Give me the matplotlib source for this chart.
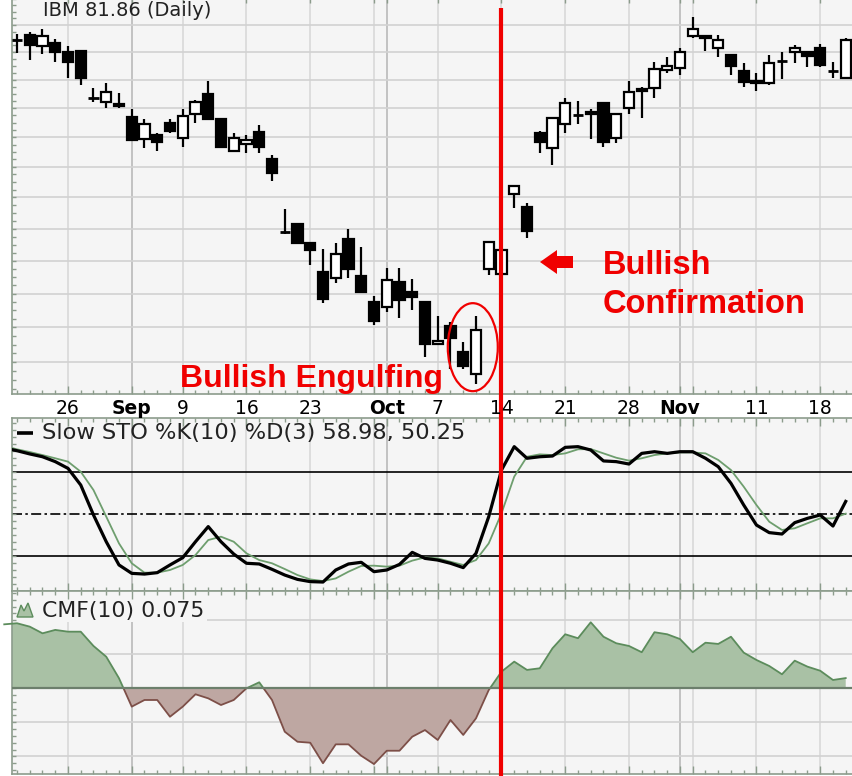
import numpy as np
import matplotlib
matplotlib.use("Agg")
import matplotlib.pyplot as plt
from matplotlib.patches import Rectangle, Ellipse, Polygon
from matplotlib.ticker import FixedLocator, NullLocator, NullFormatter
from matplotlib import transforms

# IBM daily candles, Aug 20 - Nov 20 2002 (trading-day index 0..65)
opens = [90.89, 91.26, 90.45, 90.67, 90.01, 90.08, 86.71, 86.43, 86.29, 85.39,
         83.87, 84.15, 84.97, 83.94, 85.59, 86.99, 85.25, 83.06, 83.53, 84.35,
         82.53, 77.79, 78.29, 77.10, 75.31, 74.95, 77.35, 75.07, 73.50, 73.21,
         74.71, 74.10, 73.50, 71.06, 72.10, 70.60, 69.35, 75.50, 75.19, 80.22,
         79.38, 84.28, 83.26, 84.90, 85.52, 85.73, 86.36, 83.94, 86.01, 87.35,
         87.42, 88.70, 88.85, 91.18, 91.18, 90.30, 89.79, 88.63, 87.91, 87.77,
         89.35, 90.01, 90.01, 90.30, 88.63, 88.13]
highs = [91.33, 91.48, 91.70, 90.96, 90.45, 90.08, 87.42, 87.77, 87.06, 85.94,
         85.25, 84.28, 85.25, 85.94, 86.57, 87.91, 85.25, 84.28, 84.15, 84.83,
         82.79, 79.25, 78.29, 77.10, 76.73, 77.10, 77.98, 76.85, 73.86, 75.56,
         75.56, 74.89, 73.50, 72.68, 72.33, 71.17, 72.68, 77.16, 76.66, 80.74,
         79.64, 84.42, 85.32, 86.71, 86.50, 85.94, 86.36, 85.59, 87.91, 87.49,
         89.28, 89.64, 90.30, 92.60, 91.18, 91.26, 89.79, 89.21, 88.49, 89.79,
         90.01, 90.52, 90.01, 90.59, 89.28, 91.04]
lows = [89.93, 89.42, 89.86, 89.28, 88.13, 87.63, 86.43, 86.01, 86.01, 83.81,
        83.26, 83.06, 84.28, 83.33, 84.97, 85.18, 83.26, 82.99, 82.93, 82.93,
        81.07, 77.66, 77.10, 75.74, 73.44, 74.65, 74.95, 74.04, 72.16, 72.91,
        72.56, 73.03, 70.31, 71.06, 69.58, 69.58, 68.74, 75.13, 75.19, 79.32,
        77.41, 82.93, 82.13, 84.28, 84.90, 83.87, 83.33, 83.60, 85.59, 85.32,
        86.71, 88.49, 88.34, 91.04, 90.08, 89.64, 88.34, 87.49, 87.21, 87.63,
        88.06, 89.21, 88.92, 88.92, 88.13, 88.13]
closes = [90.89, 90.52, 91.18, 90.01, 89.28, 88.13, 86.71, 87.13, 86.15, 83.81,
          84.90, 83.67, 84.42, 85.46, 86.43, 85.25, 83.33, 83.94, 83.81, 83.33,
          81.60, 77.79, 77.10, 76.66, 73.68, 76.42, 75.50, 74.10, 72.39, 74.83,
          73.62, 73.80, 71.06, 71.23, 71.40, 69.75, 71.87, 77.16, 76.66, 80.74,
          77.85, 83.67, 85.32, 86.36, 85.52, 85.59, 83.67, 85.59, 87.13, 87.21,
          88.77, 88.99, 90.01, 91.70, 91.04, 90.89, 88.99, 87.84, 87.77, 89.21,
          89.35, 90.30, 89.72, 89.06, 88.63, 90.89]

# indicators start one session earlier (index -1 .. 65)
sto_k = [97.1, 95.2, 92.9, 90.9, 87.4, 82.6, 70.7, 49.3, 30.2, 13.6, 7.6,
         7.1, 8.1, 13.6, 18.8, 30.2, 41.0, 30.2, 21.4, 14.8, 14.3,
         10.5, 6.4, 3.3, 1.7, 1.4, 10.0, 14.3, 15.5, 8.8, 10.0,
         14.0, 22.6, 18.3, 17.1, 14.8, 11.7, 21.9, 48.1, 81.4, 98.1,
         89.8, 90.9, 91.4, 97.6, 98.1, 95.7, 87.9, 87.4, 85.7, 93.3,
         94.5, 93.3, 94.5, 94.5, 89.8, 83.8, 71.9, 56.4, 42.1, 36.7,
         35.7, 43.8, 46.9, 49.3, 41.4, 58.98]
sto_d = [98.6, 96.2, 94.3, 92.1, 89.8, 87.4, 80.2, 67.1, 48.1, 29.0, 14.8,
         8.1, 8.1, 10.0, 13.6, 20.7, 31.4, 33.8, 30.2, 21.9, 17.1,
         14.8, 10.7, 6.4, 3.3, 2.1, 4.0, 8.8, 12.9, 13.1, 12.4,
         13.1, 16.7, 19.0, 18.3, 15.9, 13.6, 17.1, 29.0, 50.5, 76.7,
         90.9, 92.6, 92.1, 93.3, 96.2, 96.4, 93.3, 90.2, 88.1, 89.8,
         92.1, 93.3, 94.0, 94.0, 93.3, 88.6, 81.4, 69.5, 56.4, 44.5,
         38.6, 39.8, 43.4, 46.9, 46.9, 50.25]
cmf = [0.470, 0.478, 0.453, 0.404, 0.429, 0.416, 0.416, 0.311, 0.232, 0.074, -0.135,
       -0.086, -0.086, -0.209, -0.135, -0.044, -0.074, -0.123, -0.086, 0.000, 0.044,
       -0.086, -0.319, -0.393, -0.400, -0.551, -0.412, -0.412, -0.496, -0.557, -0.459,
       -0.459, -0.356, -0.307, -0.380, -0.233, -0.343, -0.221, -0.013, 0.122, 0.196,
       0.135, 0.147, 0.294, 0.397, 0.368, 0.485, 0.379, 0.331, 0.311, 0.265,
       0.412, 0.397, 0.362, 0.265, 0.335, 0.326, 0.379, 0.262, 0.208, 0.164,
       0.103, 0.203, 0.159, 0.129, 0.061, 0.075]

tick_idx = [4, 9, 13, 18, 23, 29, 33, 38, 43, 48, 52, 58, 63]
tick_lbl = ["26", "Sep", "9", "16", "23", "Oct", "7", "14", "21", "28", "Nov", "11", "18"]
grid_idx = [4, 9, 13, 18, 23, 28, 29, 33, 38, 43, 48, 52, 53, 58, 63]
month_idx = [9, 29, 52]
signal_idx = 38

W, H = 853, 776
BG = "#f5f5f5"
EDGE = "#8c9c8c"
XLIM = (-0.392, 66.12)


def frame(x0, y0, x1, y1):
    return [x0 / W, 1 - y1 / H, (x1 - x0) / W, (y1 - y0) / H]


fig = plt.figure(figsize=(W / 100, H / 100), dpi=100)
fig.patch.set_facecolor("white")

ax_p = fig.add_axes(frame(12, -5, 860, 394))
ax_s = fig.add_axes(frame(12, 418, 860, 591))
ax_c = fig.add_axes(frame(12, 591, 860, 774))

for ax in (ax_p, ax_s, ax_c):
    ax.set_facecolor(BG)
    ax.set_xlim(*XLIM)
    for sp in ax.spines.values():
        sp.set_color(EDGE)
        sp.set_linewidth(1.2)
    for g in grid_idx:
        ax.axvline(g, color="#b4b4b4" if g in month_idx else "#d6d6d6",
                   lw=1.1, zorder=0.5)
    ax.xaxis.set_major_locator(FixedLocator(grid_idx))
    ax.xaxis.set_minor_locator(FixedLocator(range(-1, 67)))
    ax.tick_params(axis="x", which="both", direction="in", top=True, bottom=True,
                   labelbottom=False, color=EDGE, width=1)
    ax.tick_params(axis="x", which="major", length=6)
    ax.tick_params(axis="x", which="minor", length=3)
    ax.tick_params(axis="y", which="both", direction="in", left=True, right=False,
                   labelleft=False, length=3, color=EDGE, width=1)
    ax.yaxis.set_minor_locator(NullLocator())

# price panel (log scale)
ax_p.set_yscale("log")
ax_p.set_ylim(68.21, 94.27)
ax_p.yaxis.set_major_locator(FixedLocator(np.arange(68.5, 94.5, 0.5)))
ax_p.yaxis.set_minor_locator(NullLocator())
ax_p.yaxis.set_major_formatter(NullFormatter())
ax_p.yaxis.set_minor_formatter(NullFormatter())
for p in range(70, 93, 2):
    ax_p.axhline(p, color="#d2d2d2", lw=1.2, zorder=0.5)

bw = 0.8
for i in range(len(opens)):
    o, h, l, c = opens[i], highs[i], lows[i], closes[i]
    ax_p.vlines(i, l, h, color="black", lw=1.6, zorder=2)
    if abs(c - o) < 0.02:
        ax_p.hlines(o, i - bw / 2, i + bw / 2, color="black", lw=2.0, zorder=3)
    else:
        up = c > o
        ax_p.add_patch(Rectangle((i - bw / 2, min(o, c)), bw, abs(c - o),
                                 facecolor="white" if up else "black",
                                 edgecolor="black", lw=1.6, zorder=3))

fig.text(43 / W, 1 - 16 / H, "IBM 81.86 (Daily)", fontsize=14,
         color="#222222", va="baseline", ha="left")

# date labels under the price panel
lbl_tr = transforms.blended_transform_factory(ax_p.transData, fig.transFigure)
for x, t in zip(tick_idx, tick_lbl):
    fig.text(x, 1 - 409 / H, t, transform=lbl_tr, ha="center", va="center",
             fontsize=13.5, color="black",
             fontweight="bold" if x in month_idx else "normal")

# slow stochastic panel
xs = np.arange(-1, 66)
ax_s.set_ylim(-5.0, 118.57)
ax_s.yaxis.set_major_locator(FixedLocator(np.arange(0, 120, 5)))
ax_s.axhline(80, color="black", lw=1.2, zorder=1)
ax_s.axhline(20, color="black", lw=1.2, zorder=1)
ax_s.axhline(50, color="black", lw=1.2, zorder=1, dashes=(6, 2, 1.5, 2))
ax_s.plot(xs, sto_d, color="#6e9e6e", lw=1.3, zorder=3)
ax_s.plot(xs, sto_k, color="black", lw=2.3, zorder=4)
ax_s.plot([(17 - 12) / 848, (33 - 12) / 848], [(591 - 433) / 173] * 2,
          transform=ax_s.transAxes, color="black", lw=2.6, solid_capstyle="butt")
ax_s.text((42 - 12) / 848, (591 - 433) / 173, "Slow STO %K(10) %D(3) 58.98, 50.25",
          transform=ax_s.transAxes, fontsize=16.2, color="#222222",
          va="center", ha="left")

# Chaikin money flow panel
ax_c.set_ylim(-0.630, 0.715)
ax_c.yaxis.set_major_locator(FixedLocator(np.arange(-0.6, 0.75, 0.05)))
for v in (-0.5, -0.25, 0.25, 0.5):
    ax_c.axhline(v, color="#d2d2d2", lw=1.2, zorder=0.5)
ax_c.add_patch(Rectangle((0, (774 - 622) / 183), (207 - 12) / 848, 1,
                         transform=ax_c.transAxes, facecolor=BG,
                         edgecolor="none", zorder=1))
cm = np.array(cmf)
ax_c.fill_between(xs, cm, 0, where=cm >= 0, interpolate=True,
                  color="#a9c1a5", lw=0, zorder=2)
ax_c.fill_between(xs, cm, 0, where=cm <= 0, interpolate=True,
                  color="#bea7a2", lw=0, zorder=2)
pos_line, = ax_c.plot(xs, cm, color="#5c8c5c", lw=1.3, zorder=3)
neg_line, = ax_c.plot(xs, cm, color="#7d4f48", lw=1.3, zorder=3)
pos_line.set_clip_path(Rectangle((-2, 0), 70, 1, transform=ax_c.transData))
neg_line.set_clip_path(Rectangle((-2, -1), 70, 1, transform=ax_c.transData))
ax_c.axhline(0, color="#6c7f6c", lw=1.6, zorder=4)

icon = [(17, 617), (21, 605), (24, 611), (28, 603), (33, 617)]
ax_c.add_patch(Polygon([((x - 12) / 848, (774 - y) / 183) for x, y in icon],
                       closed=True, transform=ax_c.transAxes,
                       facecolor="#a9c1a5", edgecolor="#5c8c5c", lw=1, zorder=5))
ax_c.text((42 - 12) / 848, (774 - 610.5) / 183, "CMF(10) 0.075",
          transform=ax_c.transAxes, fontsize=15.8, color="#222222",
          va="center", ha="left", zorder=5)

# annotations
red = "#f00000"
ring = Ellipse((0, 0), 0.50, 0.88, fill=False, edgecolor=red, lw=1.6,
               transform=fig.dpi_scale_trans +
               transforms.ScaledTranslation(35.75, 70.85, ax_p.transData),
               zorder=6, clip_on=False)
ax_p.add_patch(ring)

fig.text(180 / W, 1 - 387 / H, "Bullish Engulfing", color=red, fontsize=23,
         fontweight="bold", family="Liberation Sans", va="baseline", ha="left")
fig.text(603 / W, 1 - 274 / H, "Bullish", color=red, fontsize=23.5,
         fontweight="bold", family="Liberation Sans", va="baseline", ha="left")
fig.text(603 / W, 1 - 313 / H, "Confirmation", color=red, fontsize=23.5,
         fontweight="bold", family="Liberation Sans", va="baseline", ha="left")

arrow_px = [(540, 262), (557, 250), (557, 256), (573, 256),
            (573, 268), (557, 268), (557, 274)]
fig.add_artist(Polygon([(x / W, 1 - y / H) for x, y in arrow_px], closed=True,
                       transform=fig.transFigure, facecolor=red, edgecolor="none"))

# vertical signal line through all panels
ax_r = fig.add_axes(frame(12, 8, 860, 776))
ax_r.set_xlim(*XLIM)
ax_r.axis("off")
ax_r.axvline(signal_idx, color=red, lw=3.0)

fig.savefig("out.png", dpi=100, facecolor="white")
